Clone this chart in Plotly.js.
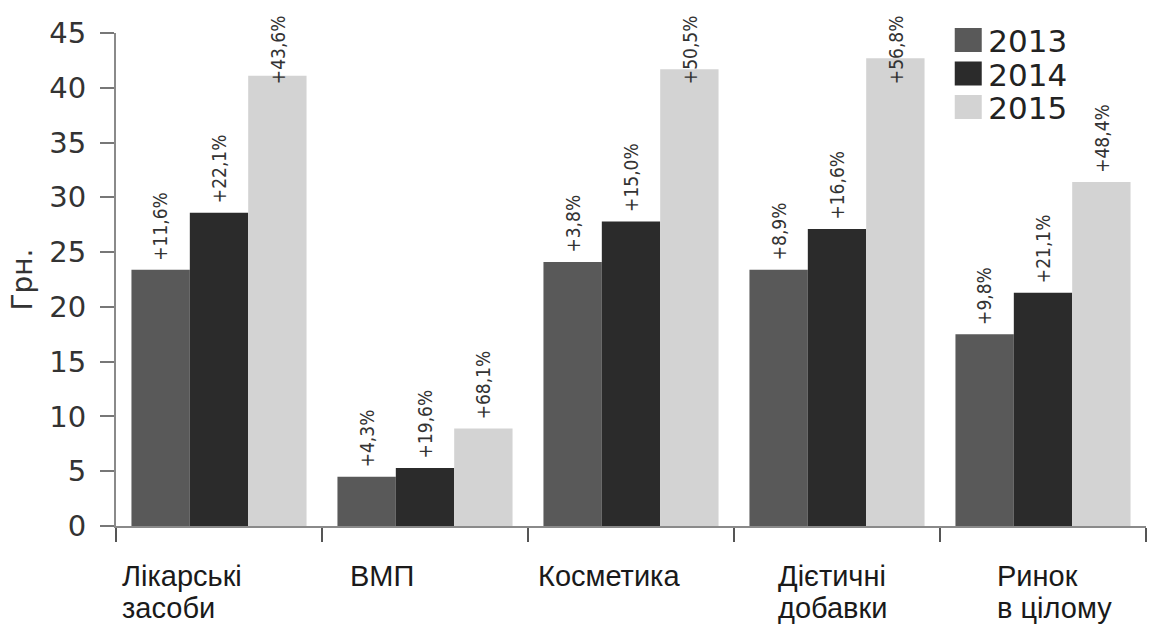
<!DOCTYPE html>
<html>
<head>
<meta charset="utf-8">
<script src="https://cdn.plot.ly/plotly-3.0.1.min.js"></script>
<style>html,body{margin:0;padding:0;background:#fff;}#chart{width:1149px;height:632px;}</style>
</head>
<body>
<div id="chart"></div>
<script>
// ---- data ----
const categories = ['Лікарські засоби', 'ВМП', 'Косметика', 'Дієтичні добавки', 'Ринок в цілому'];
const categoryLines = [['Лікарські', 'засоби'], ['ВМП'], ['Косметика'], ['Дієтичні', 'добавки'], ['Ринок', 'в цілому']];
const years = ['2013', '2014', '2015'];
const values2013 = [23.4, 4.5, 24.1, 23.4, 17.5];
const values2014 = [28.6, 5.3, 27.8, 27.1, 21.3];
const values2015 = [41.1, 8.9, 41.7, 42.7, 31.4];
const growth2013 = ['+11,6%', '+4,3%', '+3,8%', '+8,9%', '+9,8%'];
const growth2014 = ['+22,1%', '+19,6%', '+15,0%', '+16,6%', '+21,1%'];
const growth2015 = ['+43,6%', '+68,1%', '+50,5%', '+56,8%', '+48,4%'];
const yTitle = 'Грн.';

// ---- style ----
const colors = ['#595959', '#2b2b2b', '#d3d3d3'];
const W = 1149, H = 632;
const margin = {l: 116, r: 3, t: 33, b: 106};
const bargap = 0.15;
const labelCeiling = 39.5;                 // labels of tall bars are kept inside the frame
const captionLeft = [-99, -77, -95, -61, -48]; // left edge of category captions vs. category centre (px)
const captionTop = -32, captionStep = 32;  // px
const legendRowStep = 33.5;                // px between legend rows
const seriesValues = [values2013, values2014, values2015];
const seriesGrowth = [growth2013, growth2014, growth2015];

const traces = years.map((yr, i) => ({
  type: 'bar',
  name: yr,
  x: categories,
  y: seriesValues[i],
  marker: {color: colors[i], line: {width: 0}},
  hoverinfo: 'skip'
}));

const catW = (W - margin.l - margin.r) / categories.length;
const barW = catW * (1 - bargap) / years.length;

const annotations = [];
seriesValues.forEach((vals, i) => {
  vals.forEach((v, j) => {
    annotations.push({
      x: categories[j], y: Math.min(v, labelCeiling), xref: 'x', yref: 'y',
      xshift: (i - 1) * barW, yshift: 7,
      text: seriesGrowth[i][j], textangle: -90,
      xanchor: 'center', yanchor: 'bottom', showarrow: false,
      font: {family: 'DejaVu Sans Condensed, DejaVu Sans, sans-serif', size: 19, color: '#333'}
    });
  });
});
categories.forEach((c, j) => {
  categoryLines[j].forEach((line, k) => {
    annotations.push({
      x: c, y: 0, xref: 'x', yref: 'y', yanchor: 'top', xanchor: 'left',
      xshift: captionLeft[j], yshift: captionTop - k * captionStep, showarrow: false, text: line,
      font: {family: 'Liberation Sans, Arial, sans-serif', size: 29, color: '#1a1a1a'}
    });
  });
});

const layout = {
  width: W, height: H,
  margin: margin,
  paper_bgcolor: '#fff', plot_bgcolor: '#fff',
  barmode: 'group', bargap: bargap, bargroupgap: 0,
  showlegend: true,
  legend: {x: 0.808, y: 1.04, xanchor: 'left', yanchor: 'top', bgcolor: 'rgba(0,0,0,0)',
           font: {family: 'DejaVu Sans, sans-serif', size: 31, color: '#222'}, itemwidth: 30},
  xaxis: {type: 'category', range: [-0.5, 4.5], showline: true, linecolor: '#8a8a8a', linewidth: 2,
          ticks: 'outside', tickson: 'boundaries', ticklen: 14, tickwidth: 2, tickcolor: '#555',
          showticklabels: false, showgrid: false, zeroline: false, fixedrange: true},
  yaxis: {range: [0, 45], dtick: 5, showline: true, linecolor: '#8a8a8a', linewidth: 2,
          ticks: 'outside', ticklen: 14, tickwidth: 2, tickcolor: '#777', ticklabelstandoff: 8,
          showgrid: false, zeroline: false, fixedrange: true,
          tickfont: {family: 'DejaVu Sans, sans-serif', size: 29, color: '#333'},
          title: {text: yTitle, standoff: 8, font: {family: 'DejaVu Sans, sans-serif', size: 28, color: '#333'}}},
  annotations: annotations
};

Plotly.newPlot('chart', traces, layout, {displayModeBar: false, staticPlot: true}).then(gd => {
  gd.querySelectorAll('.legend .legendpoints path').forEach(p => {
    p.setAttribute('d', 'M13.5,12H-13.5V-12H13.5Z');
  });
  const items = gd.querySelectorAll('.legend .traces');
  let y0 = null;
  items.forEach((g, i) => {
    const m = /translate\(\s*([-\d.]+)[ ,]+([-\d.]+)\s*\)/.exec(g.getAttribute('transform') || '');
    if (!m) return;
    if (y0 === null) y0 = parseFloat(m[2]);
    g.setAttribute('transform', 'translate(' + m[1] + ',' + (y0 + i * legendRowStep) + ')');
  });
});
</script>
</body>
</html>
